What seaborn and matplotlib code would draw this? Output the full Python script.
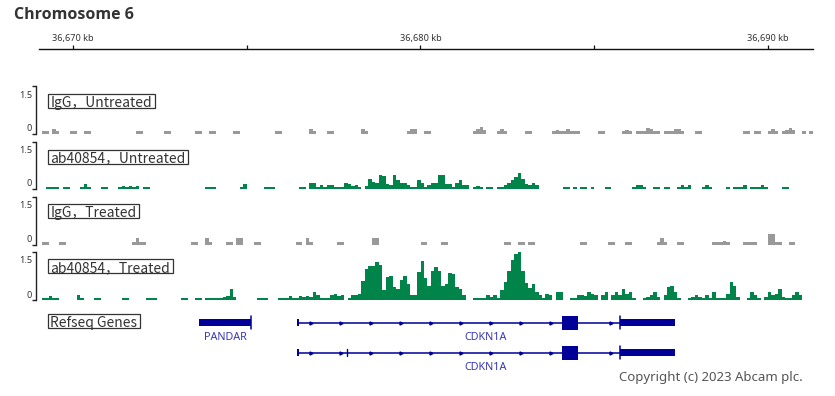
import numpy as np
import pandas as pd
import matplotlib
matplotlib.use("Agg")
import matplotlib.pyplot as plt
from matplotlib.patches import Rectangle
import seaborn as sns

# ------------------------------------------------------------------ data
chrom_title = "Chromosome 6"
bin_start_kb = 36669.1
bin_width_kb = 0.1
y_max = 1.5

igg_untreated = [
    .08, .08, 0, .15, .08, 0, 0, 0, .08, .08,
    0, 0, .08, .08, 0, 0, 0, 0, 0, 0,
    0, 0, 0, 0, 0, 0, 0, .08, .08, 0,
    0, 0, 0, 0, 0, .08, .08, 0, 0, 0,
    0, 0, 0, 0, .08, .08, 0, 0, .08, .08,
    0, 0, 0, 0, 0, .08, .08, 0, 0, 0,
    0, 0, 0, 0, 0, 0, 0, .08, .08, 0,
    0, 0, 0, 0, 0, 0, 0, .13, .08, 0,
    0, 0, .08, .08, 0, 0, 0, 0, 0, 0,
    0, 0, .15, .08, 0, 0, 0, 0, 0, 0,
    0, 0, 0, 0, 0, .08, .15, .15, 0, 0,
    .08, .08, 0, 0, 0, 0, 0, 0, 0, 0,
    0, 0, 0, 0, .08, .13, .22, .10, 0, 0,
    0, .08, .15, .08, 0, 0, 0, 0, 0, .08,
    .08, 0, 0, 0, 0, 0, 0, .08, .12, .08,
    .08, .15, .08, .08, .08, 0, 0, 0, 0, 0,
    .08, .08, 0, 0, 0, 0, 0, .08, .12, .08,
    0, .08, .08, .08, .18, .13, .08, .08, 0, .08,
    .08, .08, .15, .15, .08, 0, 0, 0, .08, .08,
    0, 0, 0, 0, 0, 0, 0, 0, 0, 0,
    0, 0, .08, .08, 0, .08, .08, 0, 0, .08,
    .15, .08, 0, .08, .12, .18, .12, 0, 0, .08,
    0, .08,
]

ab_untreated = [
    0, .07, .07, .07, .07, 0, .07, .07, 0, 0,
    0, .07, .15, .07, 0, 0, 0, .07, .07, 0,
    0, 0, .07, .10, .07, .10, .07, .10, 0, .07,
    .07, 0, 0, 0, 0, 0, 0, 0, 0, 0,
    0, 0, 0, 0, 0, 0, 0, .07, .07, .07,
    0, 0, 0, 0, 0, 0, 0, .07, .15, 0,
    0, 0, 0, 0, .07, .07, .07, 0, 0, 0,
    0, 0, 0, 0, .07, .07, 0, .18, .18, .07,
    .12, .07, .13, .13, .07, .07, .07, .18, .15, .10,
    .13, .07, 0, .10, .33, .22, .20, .45, .40, .15,
    .12, .45, .30, .20, .20, .13, .07, .07, .28, .20,
    .07, .13, .20, .20, .43, .43, .17, .15, .07, .20,
    .28, .13, .13, 0, .07, .10, .07, 0, .07, .07,
    0, .07, .07, .13, .20, .30, .37, .50, .33, .17,
    .13, .20, .13, 0, 0, 0, 0, 0, 0, 0,
    .07, .07, 0, .07, 0, .07, .07, 0, .07, 0,
    0, 0, .07, .07, 0, 0, 0, 0, 0, 0,
    .07, .13, .13, .07, 0, 0, .07, .07, 0, .07,
    .07, 0, 0, .07, .13, .07, .13, 0, 0, 0,
    .07, .13, .07, 0, 0, 0, 0, .07, 0, .07,
    .07, .07, .13, 0, .07, .07, .07, .13, .07, 0,
    0, 0, 0, .07, .07, 0, 0, 0, 0, 0,
    0, 0,
]

igg_treated = [
    .09, .09, 0, 0, 0, .09, .09, 0, 0, 0,
    0, 0, 0, 0, 0, 0, 0, 0, 0, 0,
    0, 0, 0, 0, 0, 0, .09, .20, .09, .09,
    0, 0, 0, 0, 0, 0, 0, 0, 0, 0,
    0, 0, 0, .09, .09, 0, 0, .20, .09, 0,
    0, 0, 0, .09, .09, 0, .20, .20, 0, 0,
    0, .09, .09, 0, 0, 0, 0, 0, 0, 0,
    0, 0, 0, .09, .09, 0, .20, .09, 0, 0,
    0, 0, 0, 0, 0, .09, .09, 0, 0, 0,
    0, 0, 0, 0, 0, .20, .20, 0, 0, 0,
    0, 0, 0, 0, 0, 0, 0, 0, 0, .09,
    .09, 0, 0, 0, 0, .09, .09, 0, 0, 0,
    0, 0, 0, 0, 0, 0, 0, 0, 0, 0,
    0, 0, 0, .09, .09, 0, 0, .09, .09, 0,
    .09, .09, 0, 0, 0, 0, 0, 0, 0, 0,
    0, 0, 0, 0, 0, .09, .09, 0, 0, 0,
    0, 0, 0, .09, .09, 0, 0, 0, .09, .09,
    0, 0, 0, 0, 0, 0, 0, .09, .20, .09,
    0, 0, 0, .09, .09, 0, 0, 0, 0, 0,
    0, 0, 0, .09, .09, .09, .12, .09, 0, 0,
    0, 0, .09, .09, .09, .09, 0, 0, 0, .33,
    .33, .09, .09, 0, 0, .09, .09, 0, 0, 0,
    0, 0,
]

ab_treated = [
    .07, .07, .13, .07, .07, 0, 0, 0, 0, 0,
    .16, .07, 0, 0, 0, .07, .07, 0, 0, 0,
    0, 0, 0, .07, .07, 0, 0, 0, 0, 0,
    .07, .07, .07, 0, 0, 0, 0, 0, 0, 0,
    .07, .07, 0, 0, .07, .07, 0, .07, .07, .07,
    .07, .07, .10, .13, .34, .10, 0, 0, 0, 0,
    0, 0, .07, .07, .07, 0, 0, 0, .07, .07,
    .07, .13, .07, .07, .13, .10, .13, .10, .25, .16,
    .07, .07, .07, .16, .20, .13, .16, 0, .07, .16,
    .16, .20, .60, .95, 1.05, 1.05, 1.17, 1.10, .30, .72,
    .75, .40, .33, .62, .76, .49, .16, .16, .88, 1.21,
    .67, .45, .90, 1.04, .90, .45, .50, .85, .80, .40,
    .34, .16, 0, 0, .07, .07, .07, .07, .16, .10,
    .16, .07, .30, .55, .90, 1.25, 1.42, 1.52, .90, .52,
    .38, .49, .26, .16, .07, .20, .16, 0, .24, .24,
    0, 0, .07, .07, .16, .16, .13, .26, .20, .16,
    0, .16, .26, 0, .16, .26, .16, .34, .20, .26,
    .07, 0, 0, .07, .10, .16, .24, .10, 0, .16,
    .40, .45, .26, .07, 0, 0, .07, .10, .16, .10,
    .07, .16, .07, .26, .07, .07, .07, .20, .55, .45,
    .10, 0, 0, .07, .24, .16, .07, 0, .10, .24,
    .16, .20, .34, .10, .07, .07, .16, .26, .16, 0,
    0, 0,
]

track_values = [igg_untreated, ab_untreated, igg_treated, ab_treated]
track_labels = ["IgG，Untreated", "ab40854，Untreated", "IgG，Treated", "ab40854，Treated"]
track_colors = ["#999999", "#00844a", "#999999", "#00844a"]

axis_ticks_kb = [36670, 36675, 36680, 36685, 36690]
axis_tick_labels = ["36,670 kb", "", "36,680 kb", "", "36,690 kb"]

gene_names = ["PANDAR", "CDKN1A", "CDKN1A"]
gene_rows = [0, 0, 1]
gene_starts = [36673.62, 36676.43, 36676.43]
gene_ends = [36675.13, 36687.33, 36687.33]
gene_utr_blocks = [[(36673.62, 36675.13)],
                   [(36676.43, 36676.50), (36685.75, 36687.33)],
                   [(36676.43, 36676.50), (36685.75, 36687.33)]]
gene_cds_blocks = [[], [(36684.08, 36684.53)], [(36684.08, 36684.53)]]
gene_tall_marks = [[36675.13], [36685.75], [36685.75]]
gene_short_marks = [[], [], [36677.89]]

copyright_text = "Copyright (c) 2023 Abcam plc."

# ------------------------------------------------------------------ layout
W, H, DPI = 835, 396, 100
sns.set_theme(style="white")
plt.rcParams["font.family"] = ["Noto Sans", "Noto Sans CJK SC", "DejaVu Sans"]

PX0, PXK = 73.3, 34.72          # pixel of 36,670 kb and pixels per kb


def kb_at(px):
    return 36670 + (px - PX0) / PXK


def fx(px):
    return px / W


def fy(py):
    return 1 - py / H


fig = plt.figure(figsize=(W / DPI, H / DPI), dpi=DPI)
fig.patch.set_facecolor("white")

L_TRACK, R_EDGE = 36.0, 813.0
xlim = (kb_at(L_TRACK), kb_at(R_EDGE))

# title
fig.text(fx(14), fy(15), chrom_title, fontsize=11.5, fontweight="bold",
         color="#333333", ha="left", va="center", family=["Open Sans", "DejaVu Sans"])

# top coordinate axis
ax_top = fig.add_axes([fx(39), fy(49.5), fx(R_EDGE) - fx(39), 1 / H])
ax_top.set_xlim(kb_at(39), kb_at(R_EDGE))
ax_top.set_ylim(0, 1)
for s in ["left", "right", "bottom"]:
    ax_top.spines[s].set_visible(False)
ax_top.spines["top"].set_color("#111111")
ax_top.spines["top"].set_linewidth(1.0)
ax_top.set_yticks([])
ax_top.xaxis.set_ticks_position("top")
ax_top.set_xticks(axis_ticks_kb)
ax_top.set_xticklabels(axis_tick_labels)
ax_top.tick_params(axis="x", top=True, bottom=False, direction="out", length=3,
                   width=0.9, color="#111111", pad=1.0, labelsize=6.6,
                   labelcolor="#333333")

# signal tracks
tops = [86.0, 141.5, 196.5, 251.7]
bottoms = [133.5, 189.0, 244.5, 300.0]
label_centers = [101.3, 156.7, 211.3, 266.3]

n_bins = len(ab_treated)
edges = bin_start_kb + bin_width_kb * np.arange(n_bins + 1)
centers = edges[:-1] + bin_width_kb / 2
bin_range = (float(edges[0]), float(edges[-1]))

fig.canvas.draw()
renderer = fig.canvas.get_renderer()


def boxed_label(text, yc):
    t = fig.text(fx(50.5), fy(yc), text, fontsize=10, color="#333333",
                 ha="left", va="center_baseline",
                 family=["Noto Sans CJK SC", "DejaVu Sans"], zorder=6)
    bb = t.get_window_extent(renderer)
    x1 = bb.x1 + 2.5
    rect = Rectangle((fx(47.7), fy(yc + 7)), fx(x1) - fx(47.7), 14 / H,
                     transform=fig.transFigure, fill=True, fc="white",
                     ec="#333333", lw=0.9, zorder=5)
    fig.add_artist(rect)


for k in range(4):
    top, bot = tops[k], bottoms[k]
    ax = fig.add_axes([fx(L_TRACK), fy(bot), fx(R_EDGE) - fx(L_TRACK), (bot - top) / H])
    df = pd.DataFrame({"pos": centers, "val": np.asarray(track_values[k], float)})
    sns.histplot(data=df, x="pos", weights="val", binwidth=bin_width_kb,
                 binrange=bin_range, element="step", fill=True,
                 color=track_colors[k], alpha=1, linewidth=0, ax=ax)
    ax.set_xlim(*xlim)
    ax.set_ylim(0, y_max)
    ax.set_xlabel("")
    ax.set_ylabel("")
    ax.set_xticks([])
    ax.set_yticks([0, y_max])
    ax.set_yticklabels([])
    ax.tick_params(axis="y", left=True, direction="out", length=3, width=1,
                   color="#222222")
    ax.patch.set_alpha(0)
    for s in ["top", "right", "bottom"]:
        ax.spines[s].set_visible(False)
    ax.spines["left"].set_color("#222222")
    ax.spines["left"].set_linewidth(1)
    fig.text(fx(31.8), fy(top + 9), "1.5", fontsize=6.6, color="#333333",
             ha="right", va="center")
    fig.text(fx(31.8), fy(bot - 5), "0", fontsize=6.6, color="#333333",
             ha="right", va="center")
    boxed_label(track_labels[k], label_centers[k])

# gene track
NAVY = "#000099"
ax_g = fig.add_axes([fx(L_TRACK), 0, fx(R_EDGE) - fx(L_TRACK), fy(305)])
ax_g.set_xlim(*xlim)
ax_g.set_ylim(396, 305)
ax_g.axis("off")
row_y = [322.7, 352.7]
arrow_step = 30 / PXK
for g in range(len(gene_names)):
    yc = row_y[gene_rows[g]]
    s, e = gene_starts[g], gene_ends[g]
    ax_g.plot([s, e], [yc, yc], color=NAVY, lw=1.1, solid_capstyle="butt")
    for (bs, be) in gene_utr_blocks[g]:
        ax_g.add_patch(Rectangle((bs, yc - 3.5), be - bs, 7, color=NAVY, lw=0))
    for (bs, be) in gene_cds_blocks[g]:
        ax_g.add_patch(Rectangle((bs, yc - 7), be - bs, 14, color=NAVY, lw=0))
    for m in gene_tall_marks[g]:
        ax_g.plot([m, m], [yc - 6.5, yc + 6.5], color=NAVY, lw=1.1)
    for m in gene_short_marks[g]:
        ax_g.plot([m, m], [yc - 3.5, yc + 3.5], color=NAVY, lw=1.0)
    if gene_cds_blocks[g]:
        blocks = gene_utr_blocks[g] + gene_cds_blocks[g]
        xs = np.arange(s + 14 / PXK, e, arrow_step)
        keep = [x for x in xs if all(not (bs - 5 / PXK < x < be + 5 / PXK) for bs, be in blocks)]
        ax_g.plot(keep, [yc] * len(keep), linestyle="none", marker=">",
                  markersize=2.2, color=NAVY)
    ax_g.text((s + e) / 2, yc + 15, gene_names[g], fontsize=7.8,
              color="#3838b8", ha="center", va="center")

boxed_label("Refseq Genes", 321.3)

fig.text(fx(802.5), fy(378), copyright_text, fontsize=9.5, color="#555555",
         ha="right", va="center")

fig.savefig("out.png", dpi=DPI, facecolor="white")
